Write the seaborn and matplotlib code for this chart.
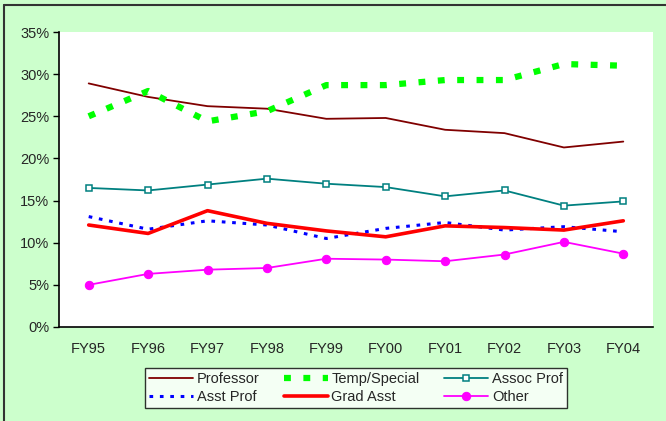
import matplotlib
matplotlib.use("Agg")
import matplotlib.pyplot as plt
import seaborn as sns
import numpy as np
from matplotlib.lines import Line2D
from matplotlib.ticker import FuncFormatter

years = ["FY95", "FY96", "FY97", "FY98", "FY99", "FY00", "FY01", "FY02", "FY03", "FY04"]
professor = [28.9, 27.3, 26.2, 25.9, 24.7, 24.8, 23.4, 23.0, 21.3, 22.0]
temp_special = [25.0, 28.0, 24.4, 25.6, 28.7, 28.7, 29.3, 29.3, 31.2, 31.0]
assoc_prof = [16.5, 16.2, 16.9, 17.6, 17.0, 16.6, 15.5, 16.2, 14.4, 14.9]
asst_prof = [13.1, 11.6, 12.6, 12.1, 10.5, 11.7, 12.4, 11.5, 11.9, 11.3]
grad_asst = [12.1, 11.1, 13.8, 12.3, 11.4, 10.7, 12.0, 11.8, 11.5, 12.6]
other = [5.0, 6.3, 6.8, 7.0, 8.1, 8.0, 7.8, 8.6, 10.1, 8.7]
y_ticks = [0, 5, 10, 15, 20, 25, 30, 35]

sns.set_theme(style="white")
plt.rcParams['font.family'] = ['Liberation Sans', 'DejaVu Sans']

fig = plt.figure(figsize=(6.66, 4.21), dpi=100)
fig.patch.set_facecolor("#CCFFCC")
W, H = 666, 421
ax = fig.add_axes([59 / W, 1 - 327 / H, (653 - 59) / W, (327 - 32) / H])
ax.set_facecolor("white")

xs = np.arange(len(years))

sns.lineplot(x=xs, y=professor, ax=ax, color="#800000", lw=1.3, label="Professor")
sns.lineplot(x=xs, y=temp_special, ax=ax, color="#00FF00", lw=4.5, label="Temp/Special")
ax.lines[-1].set_dashes([1.1, 2.0])
ax.lines[-1].set_dash_capstyle("butt")
sns.lineplot(x=xs, y=assoc_prof, ax=ax, color="#008080", lw=1.3, marker="s", markersize=4.5,
             markerfacecolor="white", markeredgecolor="#008080", markeredgewidth=1.1,
             label="Assoc Prof")
sns.lineplot(x=xs, y=asst_prof, ax=ax, color="#0000FF", lw=2.2, label="Asst Prof")
ax.lines[-1].set_dashes([1.2, 2.2])
sns.lineplot(x=xs, y=grad_asst, ax=ax, color="#FF0000", lw=2.6, label="Grad Asst")
sns.lineplot(x=xs, y=other, ax=ax, color="#FF00FF", lw=1.3, marker="o", markersize=6,
             markeredgecolor="#FF00FF", label="Other")

ax.set_xlim(-0.5, len(years) - 0.5)
ax.set_ylim(0, 35)
ax.set_xticks(xs)
ax.set_xticklabels(years, fontsize=10.5)
ax.set_yticks(y_ticks)
ax.yaxis.set_major_formatter(FuncFormatter(lambda v, p: f"{int(v)}%"))
ax.tick_params(axis="y", labelsize=10.5, left=True, length=4, width=1, color="black", pad=3)
ax.tick_params(axis="x", bottom=False, pad=5)
for s in ["top", "right"]:
    ax.spines[s].set_visible(False)
for s in ["left", "bottom"]:
    ax.spines[s].set_color("black")
    ax.spines[s].set_linewidth(1.2)
ax.set_xlabel("")
ax.set_ylabel("")
ax.grid(False)

handles, labels = ax.get_legend_handles_labels()
ax.get_legend().remove()
order = [0, 3, 1, 4, 2, 5]
leg = fig.legend([handles[i] for i in order], [labels[i] for i in order],
                 ncol=3, loc="center", bbox_to_anchor=((144 + 568) / 2 / W, 1 - 388 / H),
                 fontsize=10.5, frameon=True, fancybox=False, edgecolor="black",
                 handlelength=3.0, columnspacing=1.7, handletextpad=0.25,
                 borderpad=0.25, labelspacing=0.3)
leg.get_frame().set_linewidth(1.0)
leg.get_frame().set_facecolor("white")

# figure border lines (top and left)
fig.add_artist(Line2D([4 / W, 4 / W], [0, 1 - 5 / H], transform=fig.transFigure,
                      color="#333333", lw=1.5))
fig.add_artist(Line2D([4 / W, 1], [1 - 5 / H, 1 - 5 / H], transform=fig.transFigure,
                      color="#333333", lw=1.5))

fig.savefig("out.png", dpi=100, facecolor=fig.get_facecolor())
